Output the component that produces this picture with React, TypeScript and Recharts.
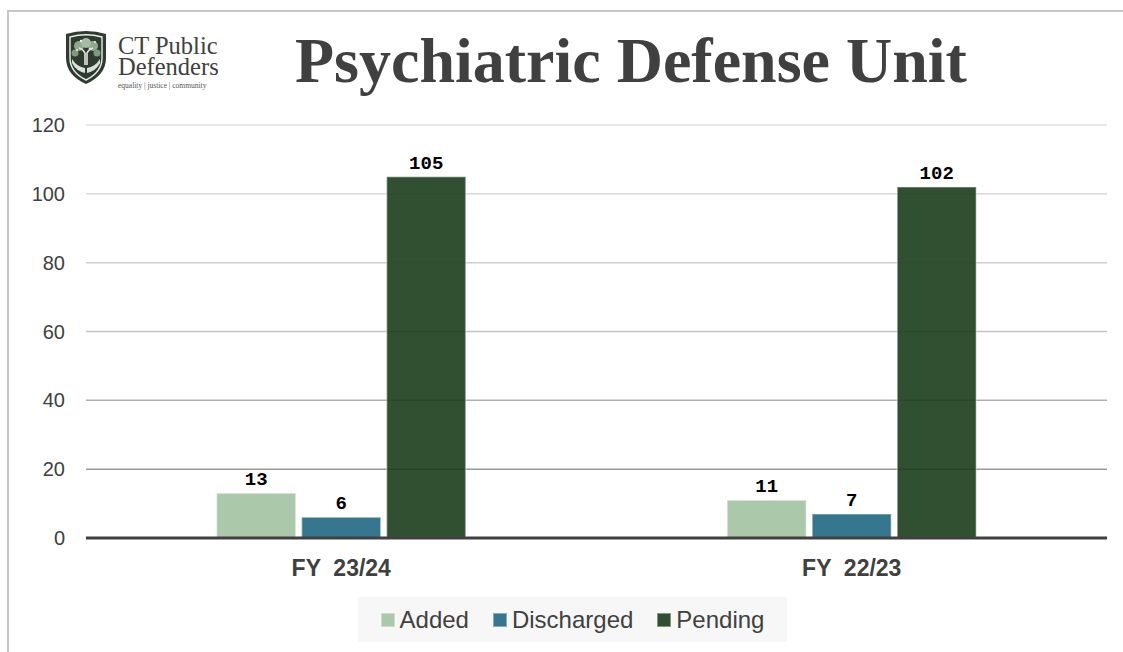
// External imports
import { BarChart, Bar, XAxis, YAxis, CartesianGrid, LabelList } from 'recharts';

// Chart data
const fiscalYears = ['FY \u00a023/24', 'FY \u00a022/23'];
const addedCases = [13, 11];
const dischargedCases = [6, 7];
const pendingCases = [105, 102];
const yTicks = [0, 20, 40, 60, 80, 100, 120];

const seriesNames = ['Added', 'Discharged', 'Pending'];
const seriesKeys = ['added', 'discharged', 'pending'];
const seriesColors = ['#abc8aa', '#37768f', '#1b3d1c'];
const seriesOpacity = [1, 1, 0.9];

// grid lines fade from light at the top to darker near the baseline
const gridShades = ['#e2e2e2', '#dadada', '#cfcfcf', '#c3c3c3', '#b0b0b0', '#9a9a9a', '#8a8a8a'];

const chartData = fiscalYears.map((year, i) => ({
    year,
    added: addedCases[i],
    discharged: dischargedCases[i],
    pending: pendingCases[i],
}));

const SANS = '"Liberation Sans", Arial, sans-serif';
const SERIF = '"Liberation Serif", "Times New Roman", serif';
const MONO = '"Liberation Mono", "Courier New", monospace';
const TEXT_GREY = '#404040';

const W = 1123;
const H = 652;

const ShieldLogo = () => (
    <svg width={46} height={56} viewBox="0 0 46 56">
        <path
            d="M3 5 Q23 -1 43 5 L43 29 Q43 46 23 55 Q3 46 3 29 Z"
            fill="#2f3a31"
        />
        <path
            d="M7 8 Q23 3.5 39 8 L39 29 Q39 43 23 51 Q7 43 7 29 Z"
            fill="none"
            stroke="#e9ede9"
            strokeWidth={1.4}
        />
        {/* foliage */}
        <circle cx={16} cy={17} r={5} fill="#8fa98d" />
        <circle cx={30} cy={17} r={5} fill="#8fa98d" />
        <circle cx={23} cy={14} r={5} fill="#a7bca5" />
        <circle cx={12} cy={24} r={3.5} fill="#7e997c" />
        <circle cx={34} cy={24} r={3.5} fill="#7e997c" />
        <circle cx={18} cy={12} r={1.2} fill="#eef2ee" />
        <circle cx={27} cy={20} r={1.2} fill="#eef2ee" />
        <circle cx={14} cy={21} r={1} fill="#eef2ee" />
        <circle cx={32} cy={13} r={1} fill="#eef2ee" />
        {/* trunk */}
        <path d="M22 36 L22 24 Q20 20 16 19 M24 36 L24 24 Q26 20 30 19" stroke="#dfe6df" strokeWidth={1.6} fill="none" />
        {/* hands */}
        <path d="M9 30 Q14 38 22 39 L22 44 Q13 42 9 34 Z" fill="#d9dfd9" />
        <path d="M37 30 Q32 38 24 39 L24 44 Q33 42 37 34 Z" fill="#d9dfd9" />
    </svg>
);

const logoLine = (top: number, size: number): React.CSSProperties => ({
    position: 'absolute',
    left: 118,
    top,
    height: size,
    lineHeight: `${size}px`,
    fontFamily: SERIF,
    color: TEXT_GREY,
    whiteSpace: 'nowrap',
});

const Header = () => (
    <>
        <div style={{ position: 'absolute', left: 63, top: 29 }}>
            <ShieldLogo />
        </div>
        <div style={{ ...logoLine(36, 20), fontSize: 24.5 }}>CT Public</div>
        <div style={{ ...logoLine(57, 20), fontSize: 24.5 }}>Defenders</div>
        <div style={{ ...logoLine(81, 10), fontSize: 7.5, color: '#555' }}>
            equality | justice | community
        </div>
        <div
            style={{
                position: 'absolute',
                left: 295,
                top: 23,
                fontFamily: SERIF,
                fontWeight: 'bold',
                fontSize: 64,
                lineHeight: '76px',
                color: TEXT_GREY,
                whiteSpace: 'nowrap',
            }}
        >
            Psychiatric Defense Unit
        </div>
    </>
);

const ChartLegend = () => (
    <div
        style={{
            position: 'absolute',
            left: 358,
            top: 597,
            width: 429,
            height: 45,
            background: '#f7f7f7',
            display: 'flex',
            alignItems: 'center',
            justifyContent: 'center',
            gap: 24,
            fontFamily: SANS,
            fontSize: 24,
            color: TEXT_GREY,
        }}
    >
        {seriesNames.map((name, idx) => (
            <div key={name} style={{ display: 'flex', alignItems: 'center', gap: 5 }}>
                <div
                    style={{
                        width: 12,
                        height: 12,
                        background: seriesColors[idx],
                        opacity: seriesOpacity[idx],
                        border: '1px solid rgba(255,255,255,0.4)',
                    }}
                />
                <span>{name}</span>
            </div>
        ))}
    </div>
);

const App = () => {
    return (
        <div
            style={{
                position: 'fixed',
                left: 0,
                top: 0,
                width: W,
                height: H,
                background: '#fff',
                overflow: 'hidden',
            }}
        >
            {/* frame */}
            <div style={{ position: 'absolute', left: 7, top: 10, right: 0, height: 2, background: '#c6c6c6' }} />
            <div style={{ position: 'absolute', left: 7, top: 10, width: 2, bottom: 0, background: '#c6c6c6' }} />

            <Header />

            <div style={{ position: 'absolute', left: 0, top: 0 }}>
                <BarChart
                    width={W}
                    height={H}
                    data={chartData}
                    margin={{ top: 125, right: 16, left: 0, bottom: 74 }}
                    barCategoryGap="25.6%"
                    barGap={6}
                >
                    <defs>
                        <linearGradient id="gridFade" gradientUnits="userSpaceOnUse" x1={0} y1={125} x2={0} y2={538}>
                            {gridShades.map((shade, i) => (
                                <stop key={shade + i} offset={i / (gridShades.length - 1)} stopColor={shade} />
                            ))}
                        </linearGradient>
                    </defs>
                    <CartesianGrid vertical={false} stroke="url(#gridFade)" strokeWidth={1.5} />
                    <YAxis
                        width={86}
                        domain={[0, 120]}
                        ticks={yTicks}
                        axisLine={false}
                        tickLine={false}
                        tickMargin={15}
                        tick={{ fill: TEXT_GREY, fontSize: 20, fontFamily: SANS }}
                    />
                    <XAxis
                        dataKey="year"
                        height={40}
                        axisLine={{ stroke: TEXT_GREY, strokeWidth: 3 }}
                        tickLine={false}
                        tickMargin={16}
                        tick={{
                            fill: TEXT_GREY,
                            fontSize: 23,
                            fontWeight: 'bold',
                            fontFamily: SANS,
                        }}
                    />
                    {seriesKeys.map((key, idx) => (
                        <Bar
                            key={key}
                            dataKey={key}
                            name={seriesNames[idx]}
                            fill={seriesColors[idx]}
                            fillOpacity={seriesOpacity[idx]}
                            stroke="#ffffff"
                            strokeOpacity={0.35}
                            strokeWidth={1.5}
                            isAnimationActive={false}
                        >
                            <LabelList
                                dataKey={key}
                                position="top"
                                offset={8}
                                fill="#000"
                                fontSize={19}
                                fontWeight="bold"
                                fontFamily={MONO}
                            />
                        </Bar>
                    ))}
                </BarChart>
            </div>

            <ChartLegend />
        </div>
    );
};

export default App;
